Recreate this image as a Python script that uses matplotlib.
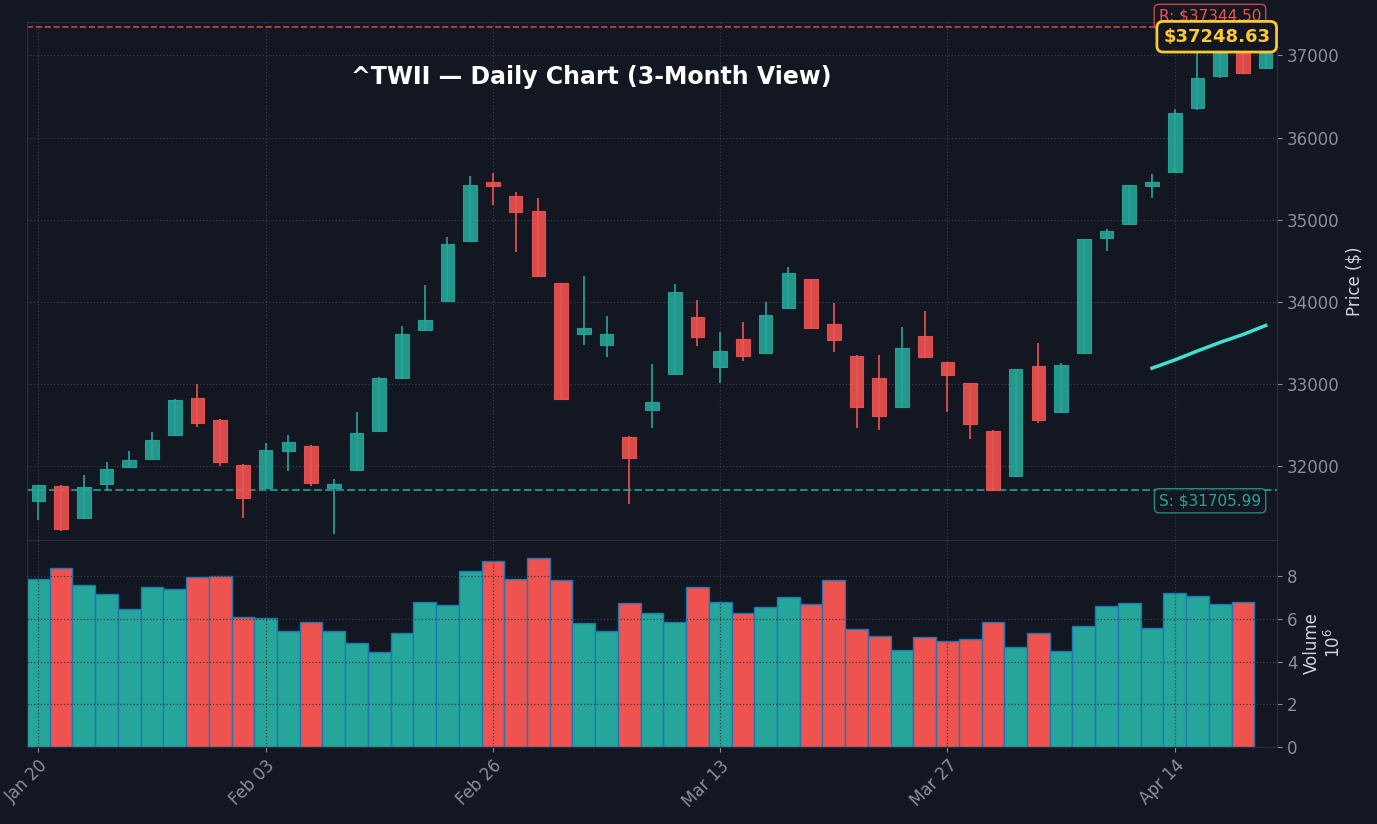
import numpy as np
import matplotlib
matplotlib.use("Agg")
import matplotlib.pyplot as plt

dates = ["Jan 20", "Feb 03", "Feb 26", "Mar 13", "Mar 27", "Apr 14"]
opens = [31574, 31757, 31367, 31781, 31988, 32085, 32377, 32827, 32560, 32012,
         31732, 32182, 32243, 31732, 31951, 32426, 33071, 33655, 34007, 34737,
         35455, 35285, 35102, 34226, 33606, 33472, 32353, 32681, 33119, 33813,
         33204, 33545, 33375, 33922, 34275, 33727, 33338, 33071, 32718, 33581,
         33265, 33010, 32426, 31878, 33217, 32657, 33375, 34774, 34944, 35406,
         35577, 36355, 36745, 37150, 36842]
highs = [31769, 31770, 31890, 32049, 32182, 32414, 32810, 32998, 32570, 32020,
         32280, 32377, 32250, 31842, 32657, 33080, 33703, 34202, 34786, 35528,
         35564, 35333, 35260, 34230, 34311, 33825, 32360, 33241, 34214, 34019,
         33630, 33752, 33995, 34421, 34280, 33983, 33345, 33350, 33691, 33886,
         33270, 33015, 32438, 33185, 33496, 33253, 34770, 34880, 35425, 35552,
         36343, 37150, 37250, 37300, 37300]
lows = [31343, 31209, 31360, 31696, 31980, 32080, 32370, 32474, 32000, 31367,
        31725, 31939, 31757, 31173, 31945, 32420, 33065, 33650, 34010, 34730,
        35175, 34603, 34300, 32810, 33472, 33326, 31538, 32462, 33110, 33460,
        33010, 33277, 33370, 33915, 33667, 33387, 32462, 32438, 32710, 33320,
        32657, 32328, 31700, 31870, 32523, 32650, 33370, 34616, 34940, 35260,
        35570, 36340, 36730, 36770, 36830]
closes = [31769, 31234, 31745, 31964, 32073, 32316, 32803, 32523, 32049, 31611,
          32195, 32292, 31793, 31781, 32401, 33071, 33606, 33776, 34700, 35418,
          35406, 35090, 34311, 32815, 33679, 33606, 32097, 32779, 34117, 33569,
          33399, 33338, 33837, 34348, 33679, 33533, 32718, 32608, 33436, 33326,
          33107, 32511, 31708, 33180, 32560, 33229, 34762, 34859, 35418, 35455,
          36294, 36720, 37100, 36790, 37248.63]
volume = [7.85, 8.4, 7.6, 7.15, 6.45, 7.5, 7.4, 7.95, 8.0, 6.1,
          6.05, 5.45, 5.85, 5.45, 4.85, 4.45, 5.35, 6.8, 6.65, 8.25,
          8.7, 7.85, 8.85, 7.8, 5.8, 5.45, 6.75, 6.25, 5.85, 7.5,
          6.8, 6.25, 6.55, 7.0, 6.7, 7.8, 5.5, 5.2, 4.55, 5.15,
          4.95, 5.05, 5.85, 4.7, 5.35, 4.5, 5.65, 6.6, 6.75, 5.55,
          7.2, 7.05, 6.7, 6.8]
trend_x = [49, 50, 51, 52, 53, 54]
trend_y = [33190, 33290, 33400, 33505, 33600, 33710]
resistance = 37344.50
support = 31705.99
last_price = 37248.63

BG = "#131722"
UP = "#26a69a"
DN = "#ef5350"
TXT = "#8a8f99"

fig = plt.figure(figsize=(13.77, 8.24), dpi=100, facecolor=BG)
ax = fig.add_axes([0.0196, 0.345, 0.9078, 0.628])
axv = fig.add_axes([0.0196, 0.0934, 0.9078, 0.2516], sharex=ax)

n = len(opens)
x = np.arange(n)
for a in (ax, axv):
    a.set_facecolor(BG)
    for s in a.spines.values():
        s.set_color("#2a2e39")
    a.yaxis.tick_right()
    a.yaxis.set_label_position("right")
    a.tick_params(colors=TXT, labelsize=12)
    a.grid(True, color="#363a45", linestyle=":", linewidth=0.9)

for i in range(n):
    c = UP if closes[i] >= opens[i] else DN
    ax.vlines(x[i], lows[i], highs[i], color=c, linewidth=1.2, zorder=2)
    lo, hi = min(opens[i], closes[i]), max(opens[i], closes[i])
    ax.bar(x[i], hi - lo, bottom=lo, width=0.6, color=c, edgecolor=c,
           linewidth=0.8, alpha=0.9, zorder=3)

ax.plot(trend_x, trend_y, color="#40e0d0", linewidth=2.5, zorder=4)
ax.axhline(resistance, color=DN, linestyle="--", linewidth=1.2, alpha=0.8)
ax.axhline(support, color=UP, linestyle="--", linewidth=1.5, alpha=0.8)

ax.text(53.8, resistance + 40, f"R: ${resistance:.2f}", color=DN, fontsize=11,
        ha="right", va="bottom", zorder=5,
        bbox=dict(boxstyle="round,pad=0.3", fc=BG, ec=DN, alpha=0.8))
ax.text(53.8, support - 40, f"S: ${support:.2f}", color=UP, fontsize=11,
        ha="right", va="top",
        bbox=dict(boxstyle="round,pad=0.3", fc=BG, ec=UP, alpha=0.8))
ax.text(54.2, last_price - 20, f"${last_price:.2f}", color="#fcc934", fontsize=13,
        fontweight="bold", ha="right", va="center", zorder=6,
        bbox=dict(boxstyle="round,pad=0.35", fc=BG, ec="#fcc934", lw=2))

ax.text(0.451, 0.895, "^TWII — Daily Chart (3-Month View)", transform=ax.transAxes,
        color="white", fontsize=17, fontweight="bold", ha="center", va="center")
ax.set_ylim(31100, 37405)
ax.set_ylabel("Price ($)", color="#d1d4dc", fontsize=12)
ax.set_yticks([32000, 33000, 34000, 35000, 36000, 37000])
plt.setp(ax.get_xticklabels(), visible=False)

vx = np.arange(len(volume))
vcol = [UP if closes[i] >= opens[i] else DN for i in vx]
axv.bar(vx, volume, width=1.0, color=vcol, edgecolor="#1f77b4", linewidth=1)
axv.set_ylim(0, 9.7)
axv.set_yticks([0, 2, 4, 6, 8])
axv.set_ylabel("Volume\n$10^6$", color="#d1d4dc", fontsize=12)
axv.set_xlim(-0.5, n - 0.5)
axv.set_xticks([0, 10, 20, 30, 40, 50])
axv.set_xticklabels(dates, rotation=45, ha="right", rotation_mode="anchor")

fig.savefig("out.png", dpi=100, facecolor=BG)
